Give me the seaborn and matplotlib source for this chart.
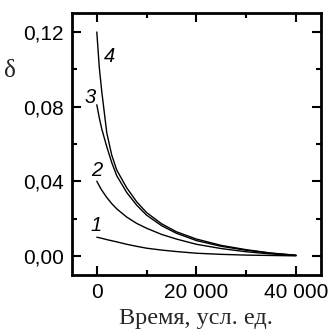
import numpy as np
import pandas as pd
import seaborn as sns
import matplotlib.pyplot as plt
from matplotlib.ticker import MultipleLocator, FuncFormatter

# время, усл. ед.
t = [0, 500, 1000, 2000, 3000, 4000, 6000, 8000, 10000, 13000, 16000, 20000, 25000, 30000, 35000, 40000]
# кривые 1-4
d1 = [0.0100, 0.0097, 0.0094, 0.0087, 0.0081, 0.0075, 0.0062, 0.0051, 0.0041, 0.0031, 0.0023, 0.0014, 0.0008, 0.0004, 0.0002, 0.0000]
d2 = [0.0400, 0.0375, 0.0352, 0.0313, 0.0280, 0.0252, 0.0208, 0.0174, 0.0148, 0.0115, 0.0090, 0.0062, 0.0039, 0.0022, 0.0010, 0.0002]
d3 = [0.0810, 0.0740, 0.0680, 0.0585, 0.0500, 0.0430, 0.0340, 0.0272, 0.0218, 0.0162, 0.0121, 0.0082, 0.0051, 0.0030, 0.0014, 0.0003]
d4 = [0.1200, 0.1010, 0.0880, 0.0660, 0.0540, 0.0460, 0.0365, 0.0290, 0.0232, 0.0172, 0.0129, 0.0090, 0.0056, 0.0033, 0.0015, 0.0003]
labels = ["1", "2", "3", "4"]
label_pos = [(-100, 0.0165), (-100, 0.046), (-1400, 0.085), (2600, 0.107)]

df = pd.DataFrame({
    "t": t * 4,
    "d": d1 + d2 + d3 + d4,
    "curve": sum([[k] * len(t) for k in labels], []),
})

sns.set_style("ticks", {"axes.edgecolor": "black", "xtick.color": "black",
                        "ytick.color": "black", "text.color": "black"})
plt.rcParams["font.family"] = ["Liberation Sans", "DejaVu Sans"]

fig = plt.figure(figsize=(3.36, 3.33), dpi=100)
ax = fig.add_axes([0.214, 0.174, 0.741, 0.787])

sns.lineplot(data=df, x="t", y="d", hue="curve", palette=["black"] * 4,
             legend=False, linewidth=1.0, ax=ax)

for lab, (x, y) in zip(labels, label_pos):
    ax.text(x, y, lab, fontsize=14.5, style="italic", ha="center", va="center")

ax.set_xlim(-5000, 45000)
ax.set_ylim(-0.0103, 0.1302)
ax.xaxis.set_major_locator(MultipleLocator(20000))
ax.xaxis.set_minor_locator(MultipleLocator(10000))
ax.yaxis.set_major_locator(MultipleLocator(0.04))
ax.yaxis.set_minor_locator(MultipleLocator(0.02))
ax.xaxis.set_major_formatter(FuncFormatter(lambda v, p: f"{int(v):,}".replace(",", " ")))
ax.yaxis.set_major_formatter(FuncFormatter(lambda v, p: f"{v:.2f}".replace(".", ",")))

ax.tick_params(which="both", direction="in", top=True, right=True, width=1.5,
               labelsize=15, colors="black")
ax.tick_params(which="major", length=6.5, pad=6)
ax.tick_params(which="minor", length=3.3)
for s in ax.spines.values():
    s.set_linewidth(2.0)
    s.set_color("black")

ax.set_xlabel("Время, усл. ед.", family=["Liberation Serif"], fontsize=17.5, labelpad=4)
ax.set_ylabel("δ", family=["Liberation Serif"], fontsize=18, rotation=0)
ax.yaxis.set_label_coords(-0.25, 0.735)

fig.savefig("out.png", dpi=100)
